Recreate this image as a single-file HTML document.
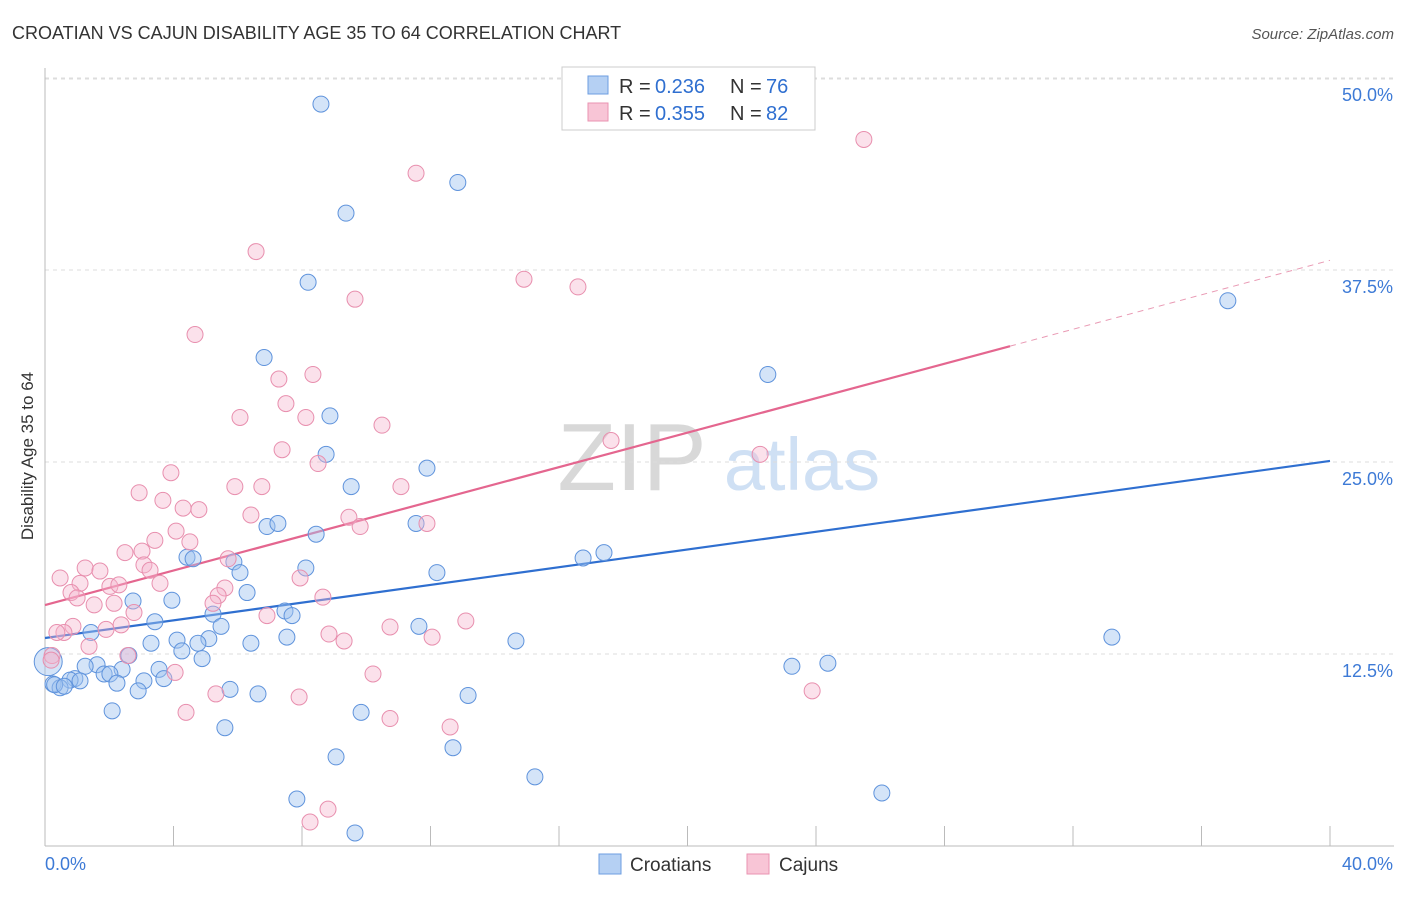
<!DOCTYPE html>
<html><head><meta charset="utf-8">
<style>
body{margin:0;background:#fff;font-family:"Liberation Sans",sans-serif;}
svg text{font-family:"Liberation Sans",sans-serif;}
</style></head>
<body>
<svg id="chart" width="1406" height="892" xmlns="http://www.w3.org/2000/svg">
<text x="12" y="39" font-size="18" fill="#333">CROATIAN VS CAJUN DISABILITY AGE 35 TO 64 CORRELATION CHART</text>
<text x="1394" y="39" font-size="15" fill="#555" text-anchor="end" font-style="italic">Source: ZipAtlas.com</text>
<text transform="translate(33,456) rotate(-90)" font-size="17" fill="#333" text-anchor="middle">Disability Age 35 to 64</text>
<g>
<text x="632" y="490" font-size="96" fill="#d8d8d8" text-anchor="middle" font-family="Liberation Serif, serif">ZIP</text>
<text x="802" y="490" font-size="74" fill="#cfe0f4" text-anchor="middle">atlas</text>
</g>
<g id="grid"></g><g id="axes"></g><g id="lines"></g><g id="pts"></g>
<g>
<rect x="562" y="67" width="253" height="63" fill="#fff" stroke="#ccc"/>
<rect x="588" y="76" width="20" height="18" fill="#b5d0f3" stroke="#6d9ee0"/>
<text x="619" y="93" font-size="20" fill="#333">R =</text>
<text x="655" y="93" font-size="20" fill="#2f6fd0">0.236</text>
<text x="730" y="93" font-size="20" fill="#333">N =</text>
<text x="766" y="93" font-size="20" fill="#2f6fd0">76</text>
<rect x="588" y="103" width="20" height="18" fill="#f8c5d6" stroke="#ea93b1"/>
<text x="619" y="120" font-size="20" fill="#333">R =</text>
<text x="655" y="120" font-size="20" fill="#2f6fd0">0.355</text>
<text x="730" y="120" font-size="20" fill="#333">N =</text>
<text x="766" y="120" font-size="20" fill="#2f6fd0">82</text>
</g>
<g>
<rect x="599" y="854" width="22" height="20" fill="#b5d0f3" stroke="#6d9ee0"/>
<text x="630" y="871" font-size="19" fill="#333">Croatians</text>
<rect x="747" y="854" width="22" height="20" fill="#f8c5d6" stroke="#ea93b1"/>
<text x="779" y="871" font-size="19" fill="#333">Cajuns</text>
</g>
</svg>
<script>
const yTicks=[12.5,25,37.5,50];
const yTickLabels=["12.5%","25.0%","37.5%","50.0%"];
const xTicks=[0,4,8,12,16,20,24,28,32,36,40];
const xEndLabels=["0.0%","40.0%"];
const blueX=[8.59,12.85,9.37,8.19,36.82,6.82,22.5,8.87,8.75,11.89,9.53,6.91,7.25,11.55,8.44,4.42,4.61,5.88,16.75,17.4,12.2,6.07,8.12,6.29,3.95,2.74,7.47,7.69,5.23,5.48,3.42,11.64,1.43,33.21,14.66,7.53,5.1,3.3,4.11,4.76,6.41,4.26,2.61,4.89,1.62,1.25,3.55,23.25,24.37,2.4,1.84,2.02,0.93,0.78,1.09,3.08,2.24,3.7,0.25,0.47,5.76,6.63,2.9,13.17,2.09,9.84,5.6,12.7,9.06,15.25,7.84,26.05,9.65,0.3,0.6];
const blueY=[48.3,43.2,41.2,36.7,35.5,31.8,30.7,28.0,25.5,24.6,23.4,20.8,21.0,21.0,20.3,18.8,18.7,18.5,18.75,19.1,17.8,17.8,18.1,16.5,16.0,15.95,15.3,15.0,15.1,14.3,14.6,14.3,13.9,13.6,13.35,13.6,13.5,13.2,13.4,13.2,13.2,12.7,12.4,12.2,11.8,11.7,11.5,11.7,11.9,11.5,11.2,11.2,10.9,10.8,10.75,10.75,10.6,10.9,10.55,10.3,10.2,9.9,10.1,9.8,8.8,8.7,7.7,6.4,5.8,4.5,3.06,3.45,0.85,10.5,10.4];
const pinkX=[25.49,11.55,6.57,14.91,16.59,9.65,4.67,7.28,8.34,7.5,8.12,6.07,10.49,17.62,7.38,22.26,8.5,3.92,5.91,6.75,11.08,2.93,3.67,4.79,4.3,6.41,9.46,11.89,9.81,4.08,4.51,3.42,3.02,2.49,5.7,3.08,1.25,1.71,0.47,3.27,7.94,1.09,3.58,2.02,2.3,5.6,0.81,8.65,5.39,1.0,5.23,1.53,2.15,2.77,6.91,2.37,1.9,0.87,0.59,0.37,13.1,10.74,8.84,9.31,12.05,1.37,2.58,0.22,4.05,10.21,5.32,7.91,23.88,4.39,10.74,12.61,8.81,8.25,0.19];
const pinkY=[46.0,43.8,38.7,36.9,36.4,35.6,33.3,30.4,30.7,28.8,27.9,27.9,27.4,26.4,25.8,25.5,24.9,24.3,23.4,23.4,23.4,23.0,22.5,21.9,22.0,21.55,21.4,21.0,20.8,20.5,19.8,19.9,19.2,19.1,18.7,18.3,18.1,17.9,17.45,17.95,17.45,17.1,17.1,16.9,17.0,16.8,16.5,16.2,16.3,16.15,15.8,15.7,15.8,15.2,15.0,14.4,14.1,14.3,13.9,13.9,14.65,14.26,13.8,13.35,13.6,13.0,12.4,12.4,11.3,11.2,9.9,9.7,10.1,8.7,8.3,7.75,2.4,1.56,12.1];
const bigBlue=[0.1,12.0];
const blueTrend=[13.54,25.07];
const pinkTrend=[15.69,0.561];
const pinkSolidEnd=30.04;

const X=v=>45+v/40*1285;
const Y=v=>846-v/12.5*192;
const NS="http://www.w3.org/2000/svg";
function mk(parent,tag,attrs){const e=document.createElementNS(NS,tag);for(const k in attrs)e.setAttribute(k,attrs[k]);document.getElementById(parent).appendChild(e);return e;}

yTicks.forEach((t,i)=>{
  const g=mk('grid','line',{x1:45,x2:1394,y1:Y(t),y2:Y(t),stroke:'#ddd','stroke-dasharray':'4,4'});
  
  
  const l=mk('axes','text',{x:1393,y:Y(t)+23,'font-size':18,fill:'#3d7ad6','text-anchor':'end'});
  l.textContent=yTickLabels[i];
  
  
});
const topLine=mk('grid','line',{x1:45,x2:1394,y1:79,y2:79,stroke:'#ddd','stroke-dasharray':'4,4'});


const ya=mk('axes','line',{x1:45,x2:45,y1:68,y2:846,stroke:'#bbb'});


const xa=mk('axes','line',{x1:45,x2:1394,y1:846,y2:846,stroke:'#bbb'});


xTicks.forEach(t=>{
  const tk=mk('axes','line',{x1:X(t),x2:X(t),y1:826,y2:846,stroke:'#bbb'});
  
  
});
const xl0=mk('axes','text',{x:45,y:870,'font-size':18,fill:'#3d7ad6'});xl0.textContent=xEndLabels[0];


const xl1=mk('axes','text',{x:1393,y:870,'font-size':18,fill:'#3d7ad6','text-anchor':'end'});xl1.textContent=xEndLabels[1];



blueX.forEach((x,i)=>{
  const c=mk('pts','circle',{cx:X(x),cy:Y(blueY[i]),r:8,fill:'rgba(160,195,240,0.45)',stroke:'#5f93dc','stroke-width':1});
  
  
});
const bb=mk('pts','circle',{cx:X(bigBlue[0]),cy:Y(bigBlue[1]),r:14,fill:'rgba(160,195,240,0.45)',stroke:'#5f93dc','stroke-width':1});


pinkX.forEach((x,i)=>{
  const c=mk('pts','circle',{cx:X(x),cy:Y(pinkY[i]),r:8,fill:'rgba(245,180,204,0.4)',stroke:'#e88fae','stroke-width':1});
  
  
});
const bl=mk('lines','line',{x1:X(0),y1:Y(blueTrend[0]),x2:X(40),y2:Y(blueTrend[1]),stroke:'#2f6fd0','stroke-width':2.2});


const pf=x=>pinkTrend[0]+pinkTrend[1]*x;
const pl=mk('lines','line',{x1:X(0),y1:Y(pf(0)),x2:X(pinkSolidEnd),y2:Y(pf(pinkSolidEnd)),stroke:'#e4668f','stroke-width':2.2});


const pd=mk('lines','line',{x1:X(pinkSolidEnd),y1:Y(pf(pinkSolidEnd)),x2:X(40),y2:Y(pf(40)),stroke:'#e99ab4','stroke-width':1,'stroke-dasharray':'6,5'});


</script>
</body></html>
